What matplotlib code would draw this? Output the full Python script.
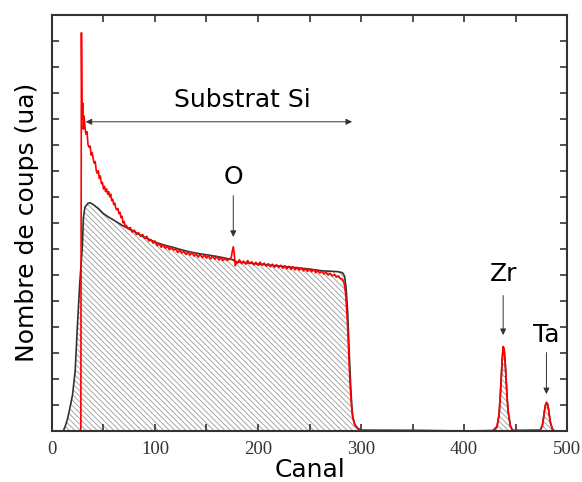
import matplotlib
matplotlib.use("Agg")
import matplotlib.pyplot as plt
from matplotlib.ticker import MultipleLocator

# simulation (black curve, hatched) : (canal, coups)
sim_pts = [(0, 0), (11, 0), (13, 0.2), (15, 0.45), (17.5, 0.9), (20, 1.4),
           (22.5, 2.3), (24.5, 3.9), (27, 5.7), (29.5, 7.1), (30.5, 8.2),
           (32, 8.6), (35, 8.75), (37, 8.77), (40, 8.7), (45, 8.55), (50, 8.35),
           (55, 8.22), (60, 8.1), (65, 7.98), (69, 7.88), (75, 7.76), (80, 7.66),
           (85, 7.54), (90, 7.44), (95, 7.35), (102, 7.23), (110, 7.13),
           (118, 7.05), (126, 6.96), (134, 6.88), (142, 6.82), (150, 6.77),
           (158, 6.72), (166, 6.66), (173, 6.6), (176, 6.58), (178, 6.5),
           (185, 6.48), (192, 6.45), (199, 6.42), (210, 6.38), (220, 6.34),
           (231, 6.3), (240, 6.26), (250, 6.22), (263, 6.15), (270, 6.14),
           (278, 6.12), (282, 6.08), (284, 5.95), (285.5, 5.5), (287, 4.6),
           (288, 3.6), (289, 2.6), (290, 1.7), (291, 1.0), (292, 0.55),
           (294, 0.25), (297, 0.1), (300, 0.03), (428, 0), (432, 0.15),
           (434, 0.6), (435, 1.2), (436, 1.9), (437, 2.7), (438, 3.22),
           (439, 3.1), (440, 2.6), (441, 1.9), (442, 1.2), (443, 0.7),
           (445, 0.2), (447, 0.03), (450, 0), (474, 0.03), (476, 0.2),
           (477, 0.45), (478, 0.75), (479, 0.98), (480, 1.08), (481, 1.05),
           (482, 0.85), (483, 0.55), (484, 0.3), (486, 0.06), (488, 0), (500, 0)]

# experimental spectrum (red)
exp_pts = [(13, 0), (28, 0), (28.6, 15.3), (29.2, 12.0), (29.8, 12.6), (30.5, 11.6),
           (31.2, 12.1), (32, 11.7), (33, 11.4), (34, 11.5), (35, 11.0), (36, 10.9),
           (37, 10.95), (38, 10.6), (39, 10.7), (40, 10.45), (41, 10.3), (42, 10.35),
           (43, 10.0), (44, 9.9), (45, 10.0), (46, 9.7), (47, 9.8), (48, 9.5),
           (49, 9.55), (50, 9.3), (51, 9.4), (52, 9.2), (53, 9.3), (54, 9.1),
           (55, 9.2), (56, 9.0), (57, 9.1), (58, 8.85), (59, 8.9), (60, 8.7),
           (61, 8.75), (62, 8.55), (63, 8.5), (64, 8.55), (65, 8.35), (66, 8.4),
           (67, 8.2), (68, 8.25), (69, 8.0), (70, 8.05), (71, 7.85), (72, 7.9),
           (74, 7.78), (76, 7.82), (78, 7.64), (80, 7.72), (82, 7.55), (84, 7.62),
           (86, 7.48), (88, 7.55), (90, 7.4), (92, 7.48), (94, 7.3), (96, 7.36),
           (98, 7.22), (100, 7.3), (102, 7.12), (104, 7.2), (106, 7.06), (108, 7.15),
           (110, 7.02), (112, 7.1), (114, 6.96), (116, 7.06), (118, 6.95), (120, 7.0),
           (122, 6.86), (124, 6.95), (126, 6.84), (128, 6.9), (130, 6.78), (132, 6.88),
           (134, 6.76), (136, 6.85), (138, 6.72), (140, 6.8), (142, 6.68), (144, 6.8),
           (146, 6.66), (148, 6.76), (150, 6.64), (152, 6.74), (154, 6.61), (156, 6.72),
           (158, 6.6), (160, 6.7), (162, 6.57), (164, 6.66), (166, 6.55), (168, 6.63),
           (170, 6.55), (172, 6.6), (174, 6.66), (175, 6.9), (176, 7.08), (177, 6.8),
           (178, 6.35), (179, 6.52), (180, 6.45), (182, 6.58), (184, 6.43), (186, 6.53),
           (188, 6.41), (190, 6.55), (192, 6.43), (194, 6.5), (196, 6.38), (198, 6.48),
           (200, 6.36), (202, 6.49), (204, 6.37), (206, 6.45), (208, 6.33), (210, 6.43),
           (212, 6.31), (214, 6.41), (216, 6.29), (218, 6.39), (220, 6.28), (222, 6.37),
           (224, 6.25), (226, 6.35), (228, 6.23), (230, 6.33), (232, 6.21), (234, 6.31),
           (236, 6.19), (238, 6.29), (240, 6.18), (242, 6.27), (244, 6.15), (246, 6.25),
           (248, 6.13), (250, 6.23), (252, 6.12), (254, 6.2), (256, 6.08), (258, 6.17),
           (260, 6.07), (262, 6.14), (264, 6.03), (266, 6.1), (268, 5.99), (270, 6.06),
           (272, 5.96), (274, 6.01), (276, 5.91), (278, 5.96), (280, 5.86), (282, 5.83),
           (283.5, 5.7), (285, 5.3), (286, 4.7), (287, 4.0), (288, 3.0), (289, 2.1),
           (290, 1.4), (291, 0.85), (292, 0.5), (294, 0.22), (297, 0.1), (300, 0.02),
           (350, 0.02), (400, 0.0), (428, 0.02), (432, 0.18), (434, 0.65), (435, 1.25),
           (436, 1.95), (437, 2.75), (438, 3.25), (439, 3.15), (440, 2.6), (441, 1.9),
           (442, 1.15), (443, 0.7), (445, 0.18), (447, 0.03), (474, 0.03), (476, 0.22),
           (477, 0.45), (478, 0.75), (479, 1.0), (480, 1.1), (481, 1.05), (482, 0.85),
           (483, 0.55), (484, 0.3), (486, 0.06), (488, 0.0), (500, 0.0)]

sim_x, sim_y = zip(*sim_pts)
exp_x, exp_y = zip(*exp_pts)

# annotations: label, x, text y, arrow tail y, arrow head y
labels = [("O", 176, 9.77, 9.15, 7.35),
          ("Zr", 438, 6.04, 5.31, 3.58),
          ("Ta", 480, 3.69, 3.12, 1.31)]
substrat = ("Substrat Si", 185, 12.7, 30, 294, 11.88)

plt.rcParams['hatch.linewidth'] = 0.6
dark = '#333333'

fig = plt.figure(figsize=(5.82, 4.82), dpi=100)
ax = fig.add_axes([0.0893, 0.1058, 0.885, 0.864])

ax.fill_between(sim_x, 0, sim_y, facecolor='none', edgecolor='#9a9a9a',
                hatch='\\\\\\\\\\\\', linewidth=0)
ax.plot(sim_x, sim_y, color=dark, lw=1.2)
ax.plot(exp_x, exp_y, color='red', lw=1.2)

arr = dict(arrowstyle='-|>', color=dark, lw=0.7, mutation_scale=9)
for name, x, ty, y0, y1 in labels:
    ax.text(x, ty, name, ha='center', va='center', fontsize=18,
            family='DejaVu Sans')
    ax.annotate('', xy=(x, y1), xytext=(x, y0), arrowprops=arr)

txt, tx, ty, xa, xb, ya = substrat
ax.text(tx, ty, txt, ha='center', va='center', fontsize=18, family='DejaVu Sans')
ax.annotate('', xy=(xa, ya), xytext=(xb, ya),
            arrowprops=dict(arrowstyle='<|-|>', color=dark, lw=0.7, mutation_scale=9))

ax.set_xlim(0, 500)
ax.set_ylim(0, 16)
ax.xaxis.set_major_locator(MultipleLocator(100))
ax.xaxis.set_minor_locator(MultipleLocator(50))
ax.set_yticks(range(1, 16))
ax.set_yticklabels([])
ax.tick_params(which='both', direction='in', top=True, right=True,
               length=5, width=1.2, color=dark)
ax.tick_params(axis='x', labelsize=13.5, labelcolor=dark, pad=7)
for lab in ax.get_xticklabels():
    lab.set_family('Liberation Serif')
for s in ax.spines.values():
    s.set_linewidth(1.5)
    s.set_color(dark)

ax.set_xlabel('Canal', fontsize=18, family='DejaVu Sans', labelpad=0)
ax.set_ylabel('Nombre de coups (ua)', fontsize=18, family='DejaVu Sans', labelpad=6)

fig.savefig('out.png', dpi=100)
